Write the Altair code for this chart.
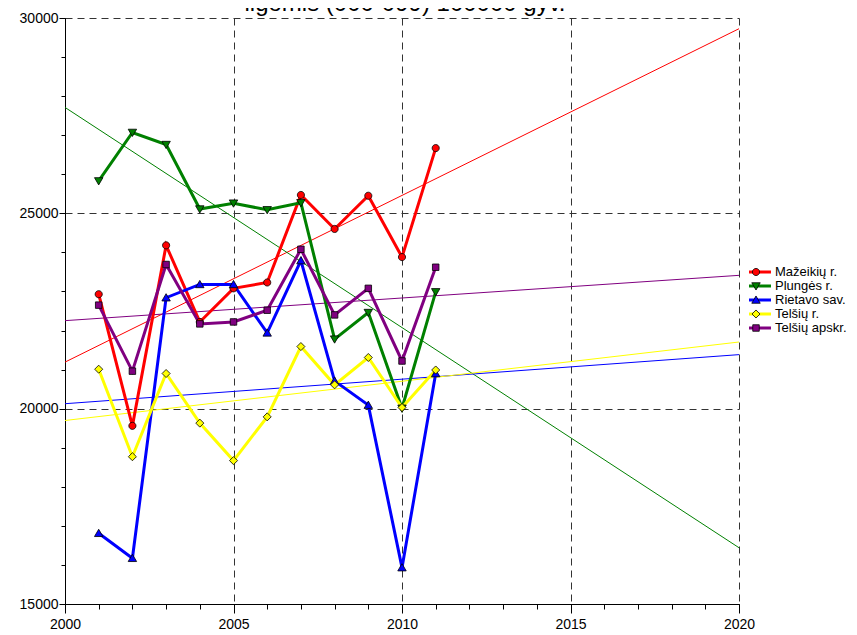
import altair as alt
import pandas as pd

title_text = "ligomis (000-099) 100000 gyv."

series = ["Mažeikių r.", "Plungės r.", "Rietavo sav.", "Telšių r.", "Telšių apskr."]
years = [2001, 2002, 2003, 2004, 2005, 2006, 2007, 2008, 2009, 2010, 2011]

mazeikiu = [22930, 19560, 24180, 22220, 23080, 23230, 25470, 24600, 25450, 23880, 26670]
plunges = [25830, 27070, 26760, 25110, 25260, 25090, 25270, 21780, 22460, 20010, 22990]
rietavo = [16810, 16170, 22840, 23180, 23180, 21940, 23790, 20710, 20090, 15930, 20900]
telsiu_r = [21010, 18770, 20900, 19630, 18670, 19790, 21590, 20610, 21310, 20030, 20990]
telsiu_apskr = [22650, 20960, 23690, 22170, 22220, 22520, 24080, 22400, 23080, 21220, 23620]

x_major = [2000, 2005, 2010, 2015, 2020]
x_minor = list(range(2000, 2021))
y_major = [15000, 20000, 25000, 30000]
y_minor = list(range(15000, 30001, 1000))

colors = ["#ff0000", "#008000", "#0000ff", "#ffff00", "#800080"]
shapes = [
    "M0.55,0A0.55,0.55,0,1,1,-0.55,0A0.55,0.55,0,1,1,0.55,0Z",
    "M-0.65,-0.5L0.65,-0.5L0,0.62Z",
    "M-0.65,0.5L0.65,0.5L0,-0.62Z",
    "M0,-0.62L0.62,0L0,0.62L-0.62,0Z",
    "M-0.5,-0.5H0.5V0.5H-0.5Z",
]

rows = []
for name, vals in zip(series, [mazeikiu, plunges, rietavo, telsiu_r, telsiu_apskr]):
    for yr, v in zip(years, vals):
        rows.append({"series": name, "year": yr, "value": v})
df = pd.DataFrame(rows)

font = "Liberation Sans"
x_scale = alt.Scale(domain=[2000, 2020], nice=False, zero=False)
y_scale = alt.Scale(domain=[15000, 30000], nice=False, zero=False)
color_scale = alt.Scale(domain=series, range=colors)
shape_scale = alt.Scale(domain=series, range=shapes)

major_x_axis = alt.Axis(values=x_major, format="d", grid=True, gridDash=[7, 5],
                        gridColor="#333333", gridWidth=1, gridOpacity=1,
                        tickSize=9, tickColor="black", domainColor="black",
                        labelFont=font, labelFontSize=14, labelColor="black",
                        labelPadding=4, labelFlush=False, labelOverlap=False,
                        title=None, orient="bottom")
major_y_axis = alt.Axis(values=y_major, format="d", grid=True, gridDash=[7, 5],
                        gridColor="#333333", gridWidth=1, gridOpacity=1,
                        tickSize=6, tickColor="black", domainColor="black",
                        labelFont=font, labelFontSize=14, labelColor="black",
                        labelPadding=1, labelFlush=False, labelOverlap=False,
                        title=None, orient="left")
minor_x_axis = alt.Axis(values=x_minor, labels=False, grid=False, domain=False,
                        tickSize=5, tickColor="black", title=None, orient="bottom")
minor_y_axis = alt.Axis(values=y_minor, labels=False, grid=False, domain=False,
                        tickSize=4, tickColor="black", title=None, orient="left")

leg_x = 684
leg_y = 247.5
leg_clip = 13
legend_lines = alt.Legend(title=None, orient="none", legendX=leg_x, legendY=leg_y,
                          symbolType="M-2.15,0H2.15", symbolSize=169,
                          symbolStrokeWidth=3, labelFont=font, labelFontSize=13,
                          labelColor="black", labelOffset=10, rowPadding=0,
                          clipHeight=leg_clip, padding=0, labelLimit=200)
legend_marks = alt.Legend(title=None, orient="none", legendX=leg_x, legendY=leg_y,
                          symbolSize=169, symbolStrokeColor="black",
                          symbolStrokeWidth=0.8, labelFont=font, labelFontSize=13,
                          labelExpr="' '", labelOffset=10, rowPadding=0,
                          clipHeight=leg_clip, padding=0)

base = alt.Chart(df)

trend = base.transform_regression(
    "year", "value", groupby=["series"], extent=[2000, 2020]
).mark_line(strokeWidth=1).encode(
    x=alt.X("year:Q", scale=x_scale, axis=major_x_axis),
    y=alt.Y("value:Q", scale=y_scale, axis=major_y_axis),
    color=alt.Color("series:N", scale=color_scale, legend=None),
)

lines = base.mark_line(strokeWidth=3).encode(
    x=alt.X("year:Q", scale=x_scale, axis=None),
    y=alt.Y("value:Q", scale=y_scale, axis=None),
    color=alt.Color("series:N", scale=color_scale, legend=legend_lines),
)

points = base.mark_point(filled=True, size=169, stroke="black", strokeWidth=0.8,
                         opacity=1).encode(
    x=alt.X("year:Q", scale=x_scale, axis=None),
    y=alt.Y("value:Q", scale=y_scale, axis=None),
    color=alt.Color("series:N", scale=color_scale, legend=legend_marks),
    shape=alt.Shape("series:N", scale=shape_scale, legend=legend_marks),
)

minor = base.mark_point(opacity=0).encode(
    x=alt.X("year:Q", scale=x_scale, axis=minor_x_axis),
    y=alt.Y("value:Q", scale=y_scale, axis=minor_y_axis),
)

title_layer = alt.Chart(pd.DataFrame({"t": [title_text]})).mark_text(
    font=font, fontSize=24, align="center", baseline="alphabetic", color="black"
).encode(text="t:N", x=alt.value(340), y=alt.value(-7))

chart = alt.layer(trend, lines, points, minor, title_layer).resolve_axis(
    x="independent", y="independent"
).resolve_legend(color="independent", shape="independent").properties(
    width=674, height=586,
    autosize=alt.AutoSizeParams(type="none"),
    padding={"left": 57, "top": 10, "right": 110, "bottom": 40},
).configure_view(stroke=None)

chart.save("out.html", embed_options={"renderer": "svg", "actions": False})
